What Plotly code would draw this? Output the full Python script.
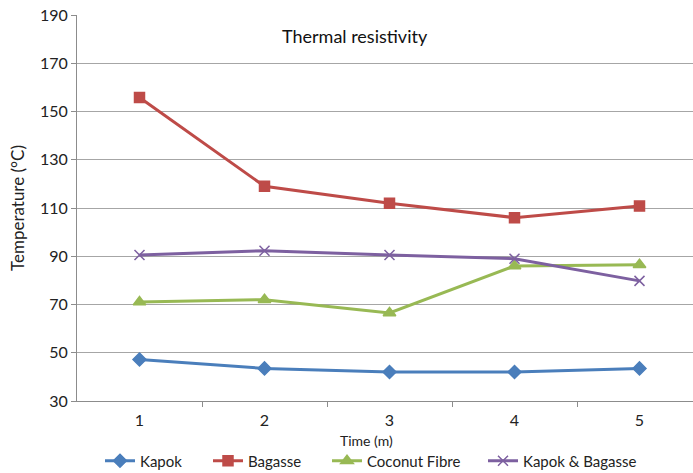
import plotly.graph_objects as go

time = [1, 2, 3, 4, 5]
kapok = [47.2, 43.5, 42.0, 42.0, 43.5]
bagasse = [155.8, 119.0, 112.0, 106.0, 110.8]
coconut = [71.0, 72.0, 66.5, 86.0, 86.5]
kapok_bagasse = [90.5, 92.3, 90.5, 89.0, 79.8]
y_ticks = [30, 50, 70, 90, 110, 130, 150, 170, 190]

FONT = "Lato"
W, H = 693, 473
L, T, B = 77, 15, 72
PW, PH = W - L, H - T - B
fig = go.Figure()
series = [
    ("Kapok", kapok, "#4a7ebb", "diamond", 10, "legend", 100),
    ("Bagasse", bagasse, "#be4b48", "square", 10, "legend2", 208),
    ("Coconut Fibre", coconut, "#98b954", "triangle-up", 11, "legend3", 327),
    ("Kapok & Bagasse", kapok_bagasse, "#7d60a0", "x-thin", 10, "legend4", 483),
]
legends = {}
for name, vals, col, sym, sz, leg, lx in series:
    fig.add_trace(go.Scatter(
        x=time, y=vals, name=name, mode="lines+markers", legend=leg,
        line=dict(color=col, width=3),
        marker=dict(symbol=sym, size=sz, color=col, line=dict(color=col, width=1.5)),
    ))
    legends[leg] = dict(orientation="h", xref="container", yref="container",
                        x=lx / W, xanchor="left", y=1 - 461 / H, yanchor="middle",
                        font=dict(size=15), bgcolor="rgba(0,0,0,0)")

fig.update_layout(
    width=W, height=H,
    margin=dict(l=L, r=0, t=T, b=B, autoexpand=False),
    paper_bgcolor="white", plot_bgcolor="white",
    font=dict(family=FONT, size=16, color="#222"),
    showlegend=True,
    annotations=[
        dict(text="Thermal resistivity", x=0.452, y=0.978, xref="paper", yref="paper",
             showarrow=False, font=dict(size=18, color="#111")),
        dict(text="Time (m)", x=(366 - L) / PW, y=(H - B - 441) / PH, xref="paper", yref="paper",
             xanchor="center", yanchor="middle", showarrow=False,
             font=dict(size=14, color="#222")),
    ],
    **legends,
)
fig.update_xaxes(
    range=[0.5, 5.428], tickvals=time, ticktext=[str(t) for t in time],
    showgrid=False, zeroline=False, showline=True, linecolor="#8c8c8c", linewidth=1,
    ticks="", ticklabelstandoff=5,
    minor=dict(tickvals=[1.5, 2.5, 3.5, 4.5], ticks="outside", ticklen=5, tickcolor="#8c8c8c"),
)
fig.update_yaxes(
    range=[30, 190], tickvals=y_ticks,
    showgrid=True, gridcolor="#a6a6a6", gridwidth=1, zeroline=False,
    showline=True, linecolor="#8c8c8c", linewidth=1,
    ticks="outside", ticklen=5, tickcolor="#8c8c8c",
    title=dict(text="Temperature (°C)", font=dict(size=17), standoff=11),
)
fig.write_html("out.html", config={"displayModeBar": False},
               post_script="document.body.style.margin='0';")
